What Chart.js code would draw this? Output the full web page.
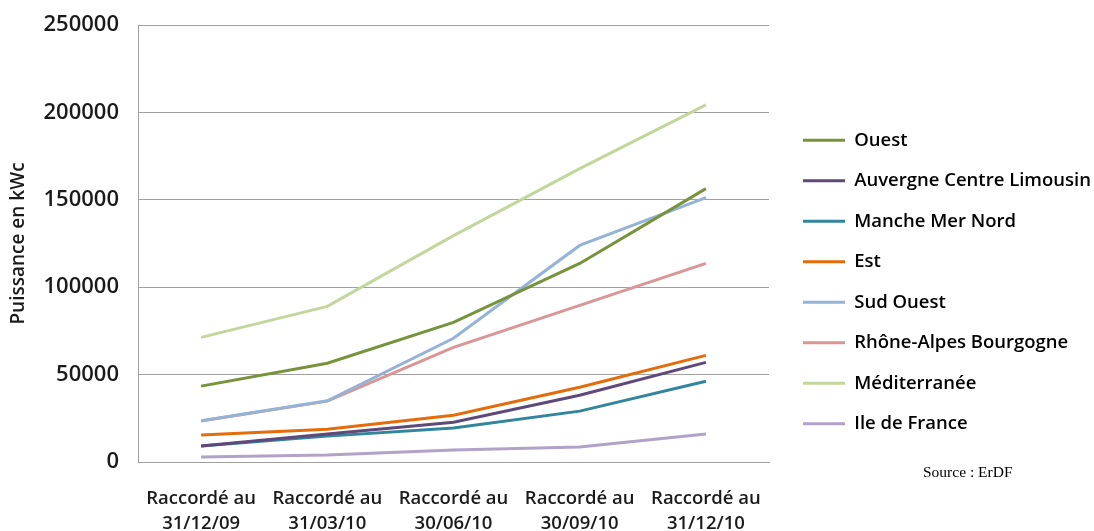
<!DOCTYPE html>
<html>
<head>
<meta charset="utf-8">
<script src="https://cdn.jsdelivr.net/npm/chart.js@4"></script>
<style>
  html, body { margin: 0; padding: 0; background: #fff; }
  #wrap { width: 1094px; height: 531px; position: relative; }
</style>
</head>
<body>
<div id="wrap"><canvas id="c"></canvas></div>
<script>
const categories = [
  ["Raccordé au", "31/12/09"],
  ["Raccordé au", "31/03/10"],
  ["Raccordé au", "30/06/10"],
  ["Raccordé au", "30/09/10"],
  ["Raccordé au", "31/12/10"]
];
const seriesNames = ["Ouest", "Auvergne Centre Limousin", "Manche Mer Nord", "Est", "Sud Ouest", "Rhône-Alpes Bourgogne", "Méditerranée", "Ile de France"];
const ouest        = [43400, 56500, 79900, 113600, 156400];
const auvergne     = [9100, 16000, 22800, 38200, 57000];
const mancheMer    = [9100, 14800, 19400, 29100, 46200];
const est          = [15400, 18800, 26800, 42800, 61000];
const sudOuest     = [23600, 35000, 70800, 123900, 151300];
const rhoneAlpes   = [23400, 34800, 65600, 89600, 113600];
const mediterranee = [71300, 89000, 129500, 167800, 204300];
const ileDeFrance  = [2900, 4000, 6800, 8600, 16000];
const yTicks = [0, 50000, 100000, 150000, 200000, 250000];
const colors = ["#77933C", "#5F497A", "#31859C", "#E46C0A", "#95B3D7", "#D99694", "#C3D69B", "#B3A2C7"];

const seriesData = [ouest, auvergne, mancheMer, est, sudOuest, rhoneAlpes, mediterranee, ileDeFrance];

Chart.defaults.font.family = "'Open Sans', 'DejaVu Sans', sans-serif";
Chart.defaults.color = "#1a1a1a";

const CANVAS_W = 1094;
const PLOT_RIGHT = 769;

const layoutPlugin = {
  id: 'layoutTweaks',
  afterInit(chart) {
    const lg = chart.legend;
    if (lg && !lg._patched) {
      const origFit = lg.fit.bind(lg);
      lg.fit = function () {
        origFit();
        this.width = CANVAS_W - PLOT_RIGHT;
      };
      lg._patched = true;
    }
  },
  afterLayout(chart) {
    const lg = chart.legend;
    if (lg) {
      lg.left += 12;
      lg.right += 12;
      lg.top += 4;
      lg.bottom += 4;
    }
  },
  afterDraw(chart) {
    const ctx = chart.ctx;
    ctx.save();
    ctx.font = "15.5px 'Liberation Serif', serif";
    ctx.fillStyle = "#000";
    ctx.textBaseline = "alphabetic";
    ctx.fillText("Source : ErDF", 923, 477);
    ctx.restore();
  }
};

new Chart(document.getElementById('c'), {
  type: 'line',
  data: {
    labels: categories,
    datasets: seriesData.map((d, i) => ({
      label: seriesNames[i],
      data: d,
      borderColor: colors[i],
      backgroundColor: colors[i],
      borderWidth: 3,
      pointRadius: 0,
      tension: 0,
      fill: false
    }))
  },
  options: {
    responsive: true,
    maintainAspectRatio: false,
    animation: false,
    layout: { padding: { top: 25, right: 0, left: 0, bottom: 0 } },
    plugins: {
      tooltip: { enabled: false },
      legend: {
        position: 'right',
        align: 'center',
        labels: {
          boxWidth: 42,
          boxHeight: 3,
          padding: 22,
          font: { size: 18.5, weight: 600 },
          color: "#1a1a1a",
          generateLabels(chart) {
            return chart.data.datasets.map((ds, i) => ({
              text: ds.label,
              fillStyle: ds.borderColor,
              strokeStyle: ds.borderColor,
              lineWidth: 0,
              hidden: false,
              datasetIndex: i
            }));
          }
        }
      }
    },
    scales: {
      x: {
        offset: true,
        grid: { display: false, drawTicks: false },
        border: { display: true, color: "#a0a0a0", width: 1 },
        ticks: {
          padding: 24,
          maxRotation: 0,
          autoSkip: false,
          font: { size: 18.5, weight: 600, lineHeight: 1.36 }
        },
        afterFit(scale) { scale.height = 69; }
      },
      y: {
        min: 0,
        max: 250000,
        afterBuildTicks(scale) { scale.ticks = yTicks.map(v => ({ value: v })); },
        grid: { color: "#a0a0a0", lineWidth: 1, drawTicks: false },
        border: { display: true, color: "#a0a0a0", width: 1 },
        ticks: {
          padding: 19,
          font: { size: 22, weight: 600 },
          callback: (v) => String(v)
        },
        title: {
          display: true,
          text: "Puissance en kWc",
          font: { size: 19, weight: 600 },
          padding: { top: 7, bottom: 8 }
        },
        afterFit(scale) {
          scale.width = 138;
          scale.paddingTop = 12;
          scale.paddingBottom = 0;
        }
      }
    }
  },
  plugins: [layoutPlugin]
});
</script>
</body>
</html>
